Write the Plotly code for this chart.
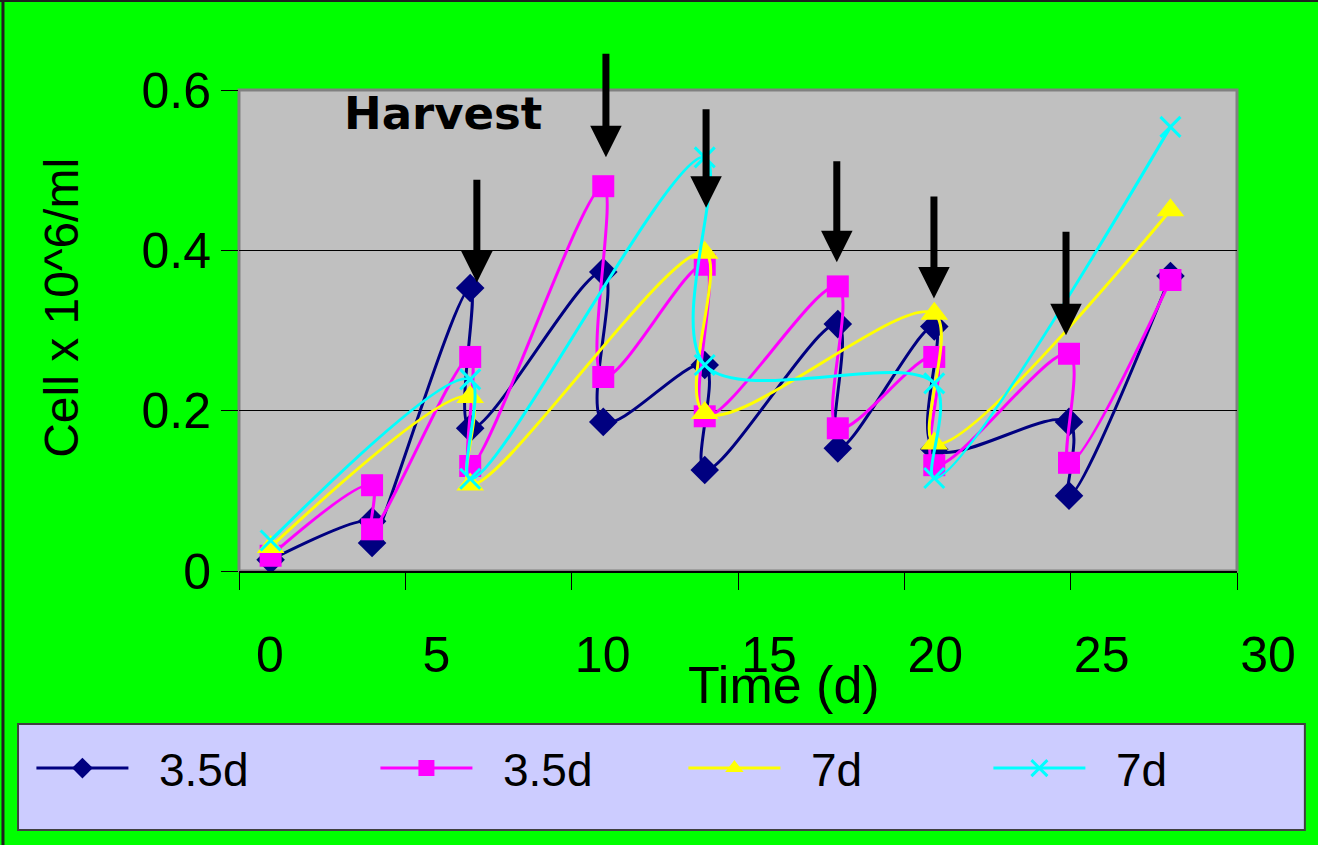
import plotly.graph_objects as go

# sampling days and cell densities
days_35 = [0.95, 4.0, 4.0, 6.95, 6.95, 10.95, 10.95, 14.0, 14.0, 18.0, 18.0, 20.9, 20.9, 24.95, 24.95, 28.0]
cells_35a = [0.014, 0.062, 0.035, 0.353, 0.178, 0.373, 0.186, 0.257, 0.126, 0.308, 0.153, 0.305, 0.152, 0.186, 0.094, 0.368]
cells_35b = [0.019, 0.107, 0.052, 0.267, 0.131, 0.480, 0.242, 0.382, 0.193, 0.355, 0.178, 0.267, 0.132, 0.271, 0.135, 0.363]

days_7 = [0.95, 6.95, 6.95, 14.0, 14.0, 20.9, 20.9, 28.0]
cells_7a = [0.030, 0.217, 0.108, 0.397, 0.197, 0.321, 0.159, 0.450]
cells_7b = [0.038, 0.239, 0.115, 0.516, 0.257, 0.234, 0.116, 0.554]

# harvest arrows: day, tip, tail
harvest_days = [7.15, 11.03, 14.04, 17.97, 20.89, 24.86]
arrow_tip = [0.360, 0.516, 0.453, 0.385, 0.340, 0.294]
arrow_tail = [0.490, 0.647, 0.578, 0.513, 0.469, 0.425]

FONT = "Liberation Sans, Arial, sans-serif"
PAD = "\u00a0\u00a0"  # small gap between legend line and its label

fig = go.Figure()

series = [
    ("3.5d", days_35, cells_35a, "#000080", "diamond", 22),
    ("3.5d", days_35, cells_35b, "#FF00FF", "square", 22),
    ("7d", days_7, cells_7a, "#FFFF00", "triangle-up", 24),
    ("7d", days_7, cells_7b, "#00FFFF", "x-thin", 20),
]
legend_ids = ["legend", "legend2", "legend3", "legend4"]
legend_x = [-0.208, 0.1367, 0.4453, 0.7509]

for (name, xs, ys, col, sym, size), lid in zip(series, legend_ids):
    fig.add_trace(go.Scatter(
        x=xs, y=ys, name=PAD + name, mode="lines+markers", legend=lid,
        line=dict(color=col, width=3, shape="spline", smoothing=1),
        marker=dict(symbol=sym, size=size, color=col, line=dict(color=col, width=3 if sym == "x-thin" else 0)),
    ))

for d, tip, tail in zip(harvest_days, arrow_tip, arrow_tail):
    fig.add_annotation(x=d, y=tip, ax=d, ay=tail, xref="x", yref="y", axref="x", ayref="y",
                       text="", showarrow=True, arrowhead=2, arrowsize=0.9, arrowwidth=7,
                       arrowcolor="black")

fig.add_annotation(x=6.13, y=0.571, xref="x", yref="y", text="<b>Harvest</b>", showarrow=False,
                   xanchor="center", yanchor="middle",
                   font=dict(family="Comic Sans MS, DejaVu Sans", size=45, color="black"))

# axis titles
fig.add_annotation(x=0.546, y=-0.237, xref="paper", yref="paper", text="Time (d)", showarrow=False,
                   xanchor="center", yanchor="middle",
                   font=dict(family=FONT, size=52, color="black"))
fig.add_annotation(x=-0.1774, y=0.547, xref="paper", yref="paper", text="Cell x 10^6/ml",
                   xanchor="center", yanchor="middle",
                   textangle=-90, showarrow=False, font=dict(family=FONT, size=48, color="black"))

# plot border, legend box and outer frame
fig.add_shape(type="rect", xref="paper", yref="paper", x0=0, x1=1, y0=0, y1=1,
              line=dict(color="#808080", width=3), layer="between")
fig.add_shape(type="rect", xref="paper", yref="paper", x0=-0.2214, x1=1.068, y0=-0.5385, y1=-0.318,
              line=dict(color="#404040", width=2), fillcolor="#CCCCFF", layer="below")
fig.add_shape(type="line", xref="paper", yref="paper", x0=-0.2365, x1=-0.2365, y0=-0.58, y1=1.19,
              line=dict(color="#202020", width=3))
fig.add_shape(type="line", xref="paper", yref="paper", x0=-0.24, x1=1.09, y0=1.185, y1=1.185,
              line=dict(color="#202020", width=2))

legends = {
    lid: dict(orientation="h", x=lx, xanchor="left", y=-0.41, yanchor="middle",
              bgcolor="rgba(0,0,0,0)", font=dict(family=FONT, size=46), itemwidth=92)
    for lid, lx in zip(legend_ids, legend_x)
}

fig.update_layout(
    width=1318, height=845,
    paper_bgcolor="#00FF00", plot_bgcolor="#C0C0C0",
    margin=dict(l=239, r=81, t=90, b=274, autoexpand=False),
    font=dict(family=FONT, color="black"),
    showlegend=True,
    xaxis=dict(range=[0, 30], dtick=5, ticks="outside", ticklen=17, tickcolor="black",
               showgrid=False, zeroline=False, showline=True, linecolor="black", linewidth=2,
               tickfont=dict(family=FONT, size=50), ticklabelshift=31, ticklabelstandoff=22),
    yaxis=dict(range=[0, 0.6], dtick=0.2, ticks="outside", ticklen=17, tickcolor="black",
               showgrid=True, gridcolor="black", gridwidth=1, zeroline=False,
               tickfont=dict(family=FONT, size=50)),
    **legends,
)

fig.write_html("out.html", config={"displayModeBar": False},
               post_script="document.body.style.margin='0';")
